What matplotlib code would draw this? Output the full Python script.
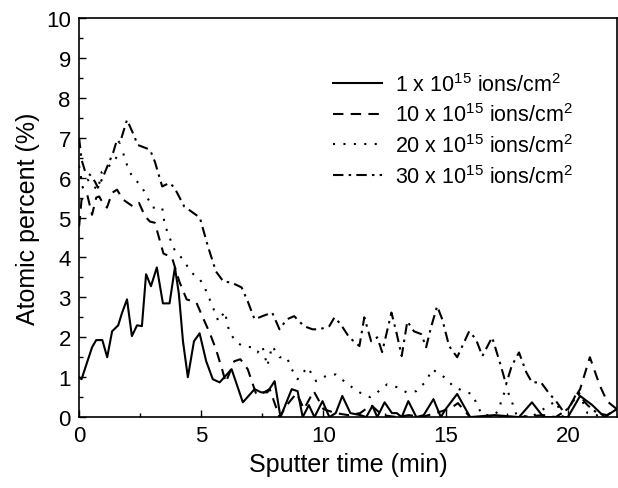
import matplotlib
matplotlib.use("Agg")
import matplotlib.pyplot as plt
from matplotlib.ticker import MultipleLocator

plt.rcParams['font.family'] = ['Liberation Sans', 'DejaVu Sans']
plt.rcParams['mathtext.default'] = 'regular'

# sputter time (min) and atomic percent (%)
t_1 = [0.0, 0.1, 0.53, 0.7, 0.95, 1.15, 1.35, 1.6, 1.75, 1.96, 2.16, 2.37, 2.57,
       2.74, 2.94, 3.18, 3.43, 3.7, 3.92, 4.08, 4.25, 4.45, 4.7, 4.93, 5.2, 5.47,
       5.75, 6.24, 6.7, 7.18, 7.45, 7.7, 8.0, 8.24, 8.7, 8.94, 9.15, 9.4, 9.63,
       9.96, 10.24, 10.5, 10.77, 11.1, 11.5, 11.75, 12.0, 12.2, 12.5, 12.8, 13.0,
       13.2, 13.47, 13.8, 14.1, 14.5, 14.8, 15.0, 15.47, 16.0, 17.0, 18.0, 18.53,
       19.0, 20.0, 20.5, 21.0, 21.5, 22.0]
v_1 = [1.0, 0.95, 1.75, 1.93, 1.93, 1.5, 2.15, 2.3, 2.6, 2.95, 2.03, 2.3, 2.28,
       3.58, 3.28, 3.75, 2.85, 2.85, 3.75, 3.1, 1.9, 1.0, 1.9, 2.1, 1.4, 0.95,
       0.87, 1.2, 0.37, 0.7, 0.62, 0.62, 0.9, 0.0, 0.7, 0.65, 0.0, 0.3, 0.0,
       0.4, 0.0, 0.1, 0.53, 0.1, 0.05, 0.0, 0.28, 0.0, 0.37, 0.1, 0.1,
       0.0, 0.4, 0.0, 0.05, 0.45, 0.0, 0.2, 0.58, 0.0, 0.05, 0.0, 0.37,
       0.0, 0.0, 0.53, 0.3, 0.0, 0.2]

t_10 = [0.0, 0.1, 0.33, 0.53, 0.7, 0.82, 0.94, 1.14, 1.35, 1.55, 1.8, 2.2, 2.45,
        2.7, 2.9, 3.1, 3.45, 3.8, 4.1, 4.4, 4.8, 5.06, 5.35, 5.6, 5.85, 6.0,
        6.35, 6.6, 6.9, 7.25, 7.5, 7.8, 8.2, 8.5, 8.9, 9.2, 9.6, 10.0, 10.5,
        11.0, 11.5, 11.95, 12.4, 13.0, 13.5, 14.0, 14.6, 15.2, 15.5, 16.0, 17.0,
        18.0, 19.0, 19.5, 20.0, 20.5, 20.9, 21.3, 21.6, 22.0]
v_10 = [4.78, 5.45, 5.58, 5.07, 5.5, 5.53, 5.4, 5.25, 5.62, 5.7, 5.45, 5.28, 5.37,
        5.03, 4.9, 4.87, 4.1, 4.0, 3.4, 2.95, 2.87, 2.5, 2.1, 1.7, 1.2, 0.87,
        1.4, 1.45, 1.2, 0.57, 0.6, 0.7, 0.0, 0.3, 0.6, 0.2, 0.65, 0.2, 0.1,
        0.05, 0.1, 0.3, 0.05, 0.0, 0.05, 0.0, 0.1, 0.22, 0.35, 0.0, 0.0,
        0.0, 0.05, 0.0, 0.2, 0.7, 1.5, 0.8, 0.4, 0.2]

t_20 = [0.0, 0.15, 0.35, 0.55, 0.77, 0.93, 1.2, 1.37, 1.55, 1.8, 1.96, 2.1, 2.2,
        2.5, 2.7, 3.0, 3.2, 3.4, 3.5, 3.7, 3.9, 4.25, 4.6, 4.94, 5.1, 5.4,
        5.7, 5.96, 6.15, 6.45, 6.7, 7.06, 7.3, 7.5, 7.7, 7.9, 8.2, 8.5, 8.7,
        8.94, 9.35, 9.7, 10.1, 10.5, 11.0, 11.47, 11.9, 12.2, 12.6, 13.0, 13.4,
        13.8, 14.2, 14.45, 14.94, 15.35, 15.75, 16.1, 16.3, 16.5, 17.0, 17.2,
        17.3, 17.5, 17.7, 17.9, 18.5, 19.3, 19.5, 19.8, 20.45, 20.8, 21.5, 22.0]
v_20 = [6.3, 5.75, 5.95, 5.8, 5.7, 6.15, 6.28, 6.37, 6.53, 6.62, 6.32, 6.12, 6.0,
        5.83, 5.62, 5.25, 5.25, 5.25, 4.83, 4.5, 4.2, 3.95, 3.62, 3.45, 3.3, 2.87,
        2.4, 2.65, 2.12, 1.87, 1.78, 1.75, 1.62, 1.78, 1.28, 1.78, 1.5, 1.5, 1.2,
        0.95, 1.25, 0.9, 1.03, 1.07, 0.82, 0.62, 0.5, 0.62, 0.82, 0.75, 0.62,
        0.65, 0.9, 1.2, 1.0, 0.75, 0.65, 0.57, 0.28, 0.05, 0.05, 0.2,
        0.5, 0.7, 0.4, 0.05, 0.0, 0.32, 0.4, 0.0, 0.62, 0.1, 0.0, 0.0]

t_30 = [0.0, 0.1, 0.25, 0.45, 0.65, 0.77, 0.98, 1.18, 1.39, 1.55, 1.67, 1.96,
        2.2, 2.4, 2.7, 2.9, 3.1, 3.4, 3.7, 3.9, 4.3, 4.94, 5.27, 5.6, 5.9,
        6.24, 6.65, 6.9, 7.18, 7.5, 7.9, 8.2, 8.5, 8.8, 9.2, 9.55, 9.84, 10.24,
        10.45, 10.7, 11.05, 11.47, 11.67, 11.95, 12.2, 12.4, 12.78, 13.0, 13.2,
        13.43, 13.7, 14.0, 14.2, 14.4, 14.65, 14.86, 15.14, 15.47, 15.96, 16.24,
        16.5, 16.9, 17.26, 17.47, 17.7, 18.0, 18.3, 18.53, 18.9, 19.2, 19.55,
        19.84, 20.1, 20.37, 20.8, 21.2, 21.6, 22.0]
v_30 = [7.0, 6.45, 6.15, 6.07, 5.9, 5.75, 6.02, 6.32, 6.62, 6.95, 6.87, 7.45,
        7.12, 6.82, 6.75, 6.7, 6.4, 5.78, 5.87, 5.75, 5.28, 5.0, 4.28, 3.65, 3.4,
        3.37, 3.25, 2.9, 2.45, 2.53, 2.62, 2.2, 2.45, 2.53, 2.28, 2.2, 2.2, 2.28,
        2.5, 2.33, 2.0, 1.78, 2.5, 1.9, 2.0, 1.63, 2.62, 2.08, 1.53,
        2.4, 2.15, 2.08, 1.75, 2.25, 2.78, 2.45, 1.78, 1.5, 2.15, 1.95,
        1.53, 2.0, 1.28, 0.82, 1.28, 1.62, 1.12, 0.87, 0.87, 0.62, 0.37,
        0.12, 0.28, 0.62, 0.3, 0.1, 0.05, 0.2]

labels = [r'1 x 10$^{15}$ ions/cm$^{2}$', r'10 x 10$^{15}$ ions/cm$^{2}$',
          r'20 x 10$^{15}$ ions/cm$^{2}$', r'30 x 10$^{15}$ ions/cm$^{2}$']

fig = plt.figure(figsize=(6.18, 4.89), dpi=100)
ax = fig.add_axes([0.128, 0.145, 0.870, 0.816])

ax.plot(t_1, v_1, color='black', lw=1.5, ls='-', label=labels[0])
ax.plot(t_10, v_10, color='black', lw=1.5, ls=(0, (5, 3.5)), label=labels[1])
ax.plot(t_20, v_20, color='black', lw=1.5, ls=(0, (1, 4)), label=labels[2])
ax.plot(t_30, v_30, color='black', lw=1.5, ls=(0, (5, 2.5, 1.2, 2.5)), label=labels[3])

ax.set_xlim(0, 22)
ax.set_ylim(0, 10)
ax.xaxis.set_major_locator(MultipleLocator(5))
ax.xaxis.set_minor_locator(MultipleLocator(2.5))
ax.yaxis.set_major_locator(MultipleLocator(1))
ax.yaxis.set_minor_locator(MultipleLocator(0.5))
ax.tick_params(which='both', direction='in', top=False, right=False, labelsize=16, width=1)
ax.tick_params(which='major', length=5, pad=6)
ax.tick_params(which='minor', length=3)
for s in ax.spines.values():
    s.set_linewidth(1.2)

ax.set_xlabel('Sputter time (min)', fontsize=18, labelpad=4)
ax.set_ylabel('Atomic percent (%)', fontsize=18, labelpad=4)

ax.legend(loc='upper left', bbox_to_anchor=(0.473, 0.863), frameon=False, fontsize=15.5,
          handlelength=2.25, handletextpad=0.6, labelspacing=0.36, borderpad=0,
          borderaxespad=0)

fig.savefig('out.png', dpi=100)
